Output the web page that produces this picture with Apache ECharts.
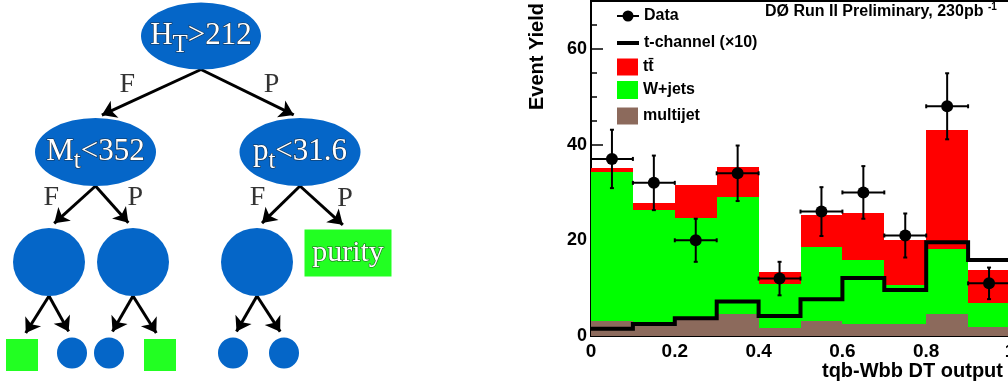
<!DOCTYPE html>
<html>
<head>
<meta charset="utf-8">
<script src="https://cdn.jsdelivr.net/npm/echarts@6/dist/echarts.min.js"></script>
<style>
  html, body { margin: 0; padding: 0; background: #fff; }
  #main { width: 1008px; height: 388px; }
</style>
</head>
<body>
<div id="main"></div>
<script type="text/javascript">
// ---- histogram data (tqb-Wbb DT output, 10 bins) ----
var binLo = [0.0, 0.1, 0.2, 0.3, 0.4, 0.5, 0.6, 0.7, 0.8, 0.9];
var binHi = [0.1, 0.2, 0.3, 0.4, 0.5, 0.6, 0.7, 0.8, 0.9, 1.0];
var dataCounts = [37, 32, 20, 34, 12, 26, 30, 21, 48, 11];
var dataErrors = [6.1, 5.7, 4.5, 5.8, 3.5, 5.1, 5.5, 4.6, 6.9, 3.3];
var multijet = [3.2, 2.9, 3.4, 4.5, 1.7, 3.1, 2.5, 2.6, 4.7, 1.9];
var wjets = [31.0, 23.4, 21.3, 24.6, 9.2, 15.4, 13.4, 8.0, 13.4, 5.1];
var ttbar = [1.0, 1.5, 6.8, 6.2, 2.5, 6.8, 9.7, 9.4, 24.9, 6.8];
var tchannel = [1.5, 2.5, 3.7, 7.2, 4.2, 7.7, 12.1, 9.6, 19.6, 15.9];

// ---- decision tree ----
var nodeText = ['{m|H}{s|T}{m|>212}', '{m|M}{s|t}{m|<352}', '{m|p}{s|t}{m|<31.6}',
  '', '', '', '{p|purity}', '', '', '', '', '', ''];
var nodeKind = ['cut', 'cut', 'cut', 'split', 'split', 'split', 'purity',
  'bkg', 'sig', 'sig', 'bkg', 'sig', 'sig'];
var nodeParent = [-1, 0, 0, 1, 1, 2, 2, 3, 3, 4, 4, 5, 5];
var branchText = ['', 'F', 'P', 'F', 'P', 'F', 'P', '', '', '', '', '', ''];

// tree layout (diagram units = px of the left panel)
var nodeX = [201, 95.5, 300, 49, 133, 257, 348, 22, 72, 109, 160, 233, 284];
var nodeY = [36, 152, 152, 262, 262, 262, 253, 355, 353, 353, 355, 353, 353];
var nodeW = [120, 121, 121, 72, 72, 72, 87, 32, 30, 30, 32, 30, 30];
var nodeH = [67, 68, 68, 68, 68, 68, 47, 32, 31, 31, 32, 31, 31];

var BLUE = '#0566c8', GREEN = '#22ff22';
var ELLIPSE = 'path://M0,50A50,50,0,1,1,100,50A50,50,0,1,1,0,50Z';
var kindStyle = {
  cut: [ELLIPSE, BLUE], split: [ELLIPSE, BLUE], sig: [ELLIPSE, BLUE],
  purity: ['rect', GREEN], bkg: ['rect', GREEN]
};
var ARROW = [10, 14];

var treeNodes = nodeKind.map(function (k, i) {
  return {
    value: [nodeX[i], nodeY[i]],
    symbol: kindStyle[k][0],
    symbolSize: [nodeW[i], nodeH[i]],
    itemStyle: { color: kindStyle[k][1], opacity: 1 }
  };
});

var treeEdges = [], branchLabels = [];
nodeParent.forEach(function (p, i) {
  if (p < 0) return;
  var x1 = nodeX[p], y1 = nodeY[p] + nodeH[p] / 2;
  var x2 = nodeX[i], y2 = nodeY[i] - nodeH[i] / 2;
  var len = Math.sqrt((x2 - x1) * (x2 - x1) + (y2 - y1) * (y2 - y1));
  var back = ARROW[1] / 2;
  treeEdges.push({ coords: [[x1, y1], [x2 - (x2 - x1) / len * back, y2 - (y2 - y1) / len * back]] });
  if (branchText[i]) {
    var dx = branchText[i] === 'F' ? -21 : 21;
    branchLabels.push({ value: [(x1 + x2) / 2 + dx, (y1 + y2) / 2 - 9], name: branchText[i] });
  }
});

function stackItems(base, vals) {
  return vals.map(function (v, i) {
    var b = base ? base[i] : 0;
    return [binLo[i], binHi[i], b, b + v];
  });
}
var baseW = multijet;
var baseT = multijet.map(function (v, i) { return v + wjets[i]; });

function renderBin(params, api) {
  var p0 = api.coord([api.value(0), api.value(3)]);
  var p1 = api.coord([api.value(1), api.value(2)]);
  var x0 = Math.round(p0[0]), x1 = Math.round(p1[0]);
  var y0 = Math.round(p0[1]), y1 = Math.round(p1[1]);
  return {
    type: 'rect',
    shape: { x: x0, y: y0, width: x1 - x0, height: y1 - y0 },
    style: { fill: api.visual('color') }
  };
}

function renderErr(params, api) {
  var lo = api.value(0), hi = api.value(1), n = api.value(2), e = api.value(3);
  var c = (lo + hi) / 2;
  var top = api.coord([c, n + e]), bot = api.coord([c, n - e]);
  var left = api.coord([lo, n]), right = api.coord([hi, n]);
  var st = { stroke: '#000', lineWidth: 2 };
  return {
    type: 'group',
    children: [
      { type: 'line', shape: { x1: top[0], y1: top[1], x2: bot[0], y2: bot[1] }, style: st },
      { type: 'line', shape: { x1: left[0], y1: left[1], x2: right[0], y2: right[1] }, style: st },
      { type: 'line', shape: { x1: top[0] - 2, y1: top[1], x2: top[0] + 2, y2: top[1] }, style: st },
      { type: 'line', shape: { x1: bot[0] - 2, y1: bot[1], x2: bot[0] + 2, y2: bot[1] }, style: st },
      { type: 'line', shape: { x1: left[0], y1: left[1] - 2, x2: left[0], y2: left[1] + 2 }, style: st },
      { type: 'line', shape: { x1: right[0], y1: right[1] - 2, x2: right[0], y2: right[1] + 2 }, style: st }
    ]
  };
}

var stepData = binLo.map(function (x, i) { return [x, tchannel[i]]; });
stepData.push([binHi[binHi.length - 1], tchannel[tchannel.length - 1]]);

var errData = binLo.map(function (x, i) { return [x, binHi[i], dataCounts[i], dataErrors[i]]; });
var pointData = binLo.map(function (x, i) { return [(x + binHi[i]) / 2, dataCounts[i]]; });

var SANS = 'Liberation Sans, Arial, Helvetica, sans-serif';
var SERIF = 'Liberation Serif, Times New Roman, serif';
var whiteText = { color: '#fff', textBorderColor: 'rgba(30,30,30,0.75)', textBorderWidth: 1.2, fontFamily: SERIF };

var legendText = { fontFamily: SANS, fontWeight: 'bold', fontSize: 16, color: '#000', lineHeight: 18 };
function oneLegend(name, icon, w, h, top) {
  return {
    data: [{ name: name, icon: icon }],
    left: 617, top: top, padding: 0, itemWidth: w, itemHeight: h, itemGap: 0,
    selectedMode: false, textStyle: legendText
  };
}
var DATA_ICON = 'path://M0,4.5H22V6.5H0Z M5.5,5.5A5.5,5.5,0,1,1,16.5,5.5A5.5,5.5,0,1,1,5.5,5.5Z';
var TT = 'tt\u0304';

var chart = echarts.init(document.getElementById('main'));
var option = {
  animation: false,
  backgroundColor: '#fff',
  title: {
    text: '{a|D\u00D8 Run II Preliminary, 230pb }{b|-1}',
    left: 765, top: 3, padding: 0,
    textStyle: {
      rich: {
        a: { fontFamily: SANS, fontWeight: 'bold', fontSize: 16, color: '#000', lineHeight: 18 },
        b: { fontFamily: SANS, fontWeight: 'bold', fontSize: 10, color: '#000', lineHeight: 12, padding: [0, 0, 10, 0] }
      }
    }
  },
  legend: [
    oneLegend('Data', DATA_ICON, 22, 11, 7),
    oneLegend('t-channel (\u00D710)', 'rect', 22, 4, 34),
    oneLegend(TT, 'rect', 21, 17, 58),
    oneLegend('W+jets', 'rect', 21, 18, 81),
    oneLegend('multijet', 'rect', 21, 17, 107)
  ],
  graphic: [{
    type: 'text', x: 537, y: 3, rotation: Math.PI / 2,
    style: {
      text: 'Event Yield', textAlign: 'right', textVerticalAlign: 'middle',
      font: 'bold 20px ' + SANS, fill: '#000'
    }
  }],
  grid: [
    { left: 0, top: 0, width: 400, height: 388, outerBoundsMode: 'none' },
    { left: 591, top: 1, width: 419, height: 335, show: true, borderColor: '#000', borderWidth: 2,
      backgroundColor: 'transparent', outerBoundsMode: 'none' }
  ],
  xAxis: [
    { gridIndex: 0, type: 'value', min: 0, max: 400, show: false },
    {
      gridIndex: 1, type: 'value', min: 0, max: 1, interval: 0.2,
      name: 'tqb-Wbb DT output', nameLocation: 'end', nameGap: -7,
      nameTextStyle: { fontFamily: SANS, fontWeight: 'bold', fontSize: 20, color: '#000',
        align: 'right', verticalAlign: 'top', padding: [25, 0, 0, 0] },
      axisLine: { lineStyle: { color: '#000', width: 2 } },
      axisTick: { inside: true, length: 9, lineStyle: { color: '#000', width: 1.5 } },
      minorTick: { show: true, splitNumber: 4, length: 5, lineStyle: { color: '#000', width: 1.5 } },
      splitLine: { show: false },
      axisLabel: { fontFamily: SANS, fontWeight: 'bold', fontSize: 19, color: '#000', margin: 6 }
    }
  ],
  yAxis: [
    { gridIndex: 0, type: 'value', min: 0, max: 388, inverse: true, show: false },
    {
      gridIndex: 1, type: 'value', min: 0, max: 70, interval: 20, position: 'left',
      axisLine: { show: true, lineStyle: { color: '#000', width: 2 } },
      axisTick: { inside: true, length: 12, lineStyle: { color: '#000', width: 1.5 } },
      splitLine: { show: false },
      axisLabel: { fontFamily: SANS, fontWeight: 'bold', fontSize: 18, color: '#000', margin: 4, showMaxLabel: false }
    },
    {
      gridIndex: 1, type: 'value', min: 0, max: 70, interval: 5, position: 'left', offset: 0,
      axisLine: { show: false },
      axisTick: { inside: true, length: 6, lineStyle: { color: '#000', width: 1.5 } },
      splitLine: { show: false },
      axisLabel: { show: false }
    }
  ],
  series: [
    // decision tree
    {
      type: 'lines', coordinateSystem: 'cartesian2d', xAxisIndex: 0, yAxisIndex: 0,
      polyline: false, symbol: ['none', 'arrow'], symbolSize: ARROW, silent: true,
      lineStyle: { color: '#000', width: 3, opacity: 1, curveness: 0 },
      data: treeEdges, z: 2
    },
    {
      type: 'scatter', xAxisIndex: 0, yAxisIndex: 0, silent: true, data: treeNodes, z: 3,
      itemStyle: { opacity: 1 },
      label: {
        show: true, position: 'inside',
        formatter: function (p) { return nodeText[p.dataIndex]; },
        rich: {
          m: Object.assign({ fontSize: 31, lineHeight: 40 }, whiteText),
          s: Object.assign({ fontSize: 25, lineHeight: 24, padding: [18, 0, 0, 0] }, whiteText),
          p: Object.assign({ fontSize: 30, lineHeight: 36 }, whiteText)
        }
      }
    },
    {
      type: 'scatter', xAxisIndex: 0, yAxisIndex: 0, silent: true, symbolSize: 0, data: branchLabels, z: 3,
      label: {
        show: true, position: 'inside', formatter: '{b}',
        fontFamily: SERIF, fontSize: 28, color: '#000'
      }
    },
    // histogram stack
    { name: 'multijet', type: 'custom', xAxisIndex: 1, yAxisIndex: 1, renderItem: renderBin,
      itemStyle: { color: '#8c6a5c' }, encode: { x: [0, 1], y: [2, 3] },
      data: stackItems(null, multijet), z: 2 },
    { name: 'W+jets', type: 'custom', xAxisIndex: 1, yAxisIndex: 1, renderItem: renderBin,
      itemStyle: { color: '#00ff00' }, encode: { x: [0, 1], y: [2, 3] },
      data: stackItems(baseW, wjets), z: 2 },
    { name: TT, type: 'custom', xAxisIndex: 1, yAxisIndex: 1, renderItem: renderBin,
      itemStyle: { color: '#ff0000' }, encode: { x: [0, 1], y: [2, 3] },
      data: stackItems(baseT, ttbar), z: 2 },
    { name: 't-channel (\u00D710)', type: 'line', xAxisIndex: 1, yAxisIndex: 1, step: 'end',
      showSymbol: false, symbol: 'none', data: stepData, z: 4,
      itemStyle: { color: '#000' },
      lineStyle: { color: '#000', width: 4, cap: 'butt', join: 'miter' } },
    { name: 'errors', type: 'custom', xAxisIndex: 1, yAxisIndex: 1, renderItem: renderErr,
      encode: { x: [0, 1], y: 2 }, data: errData, z: 5 },
    { name: 'Data', type: 'scatter', xAxisIndex: 1, yAxisIndex: 1, symbol: 'circle', symbolSize: 12,
      itemStyle: { color: '#000', opacity: 1 }, data: pointData, z: 6 }
  ]
};
chart.setOption(option);
window.onresize = function () {
  chart.resize();
};
</script>
</body>
</html>
